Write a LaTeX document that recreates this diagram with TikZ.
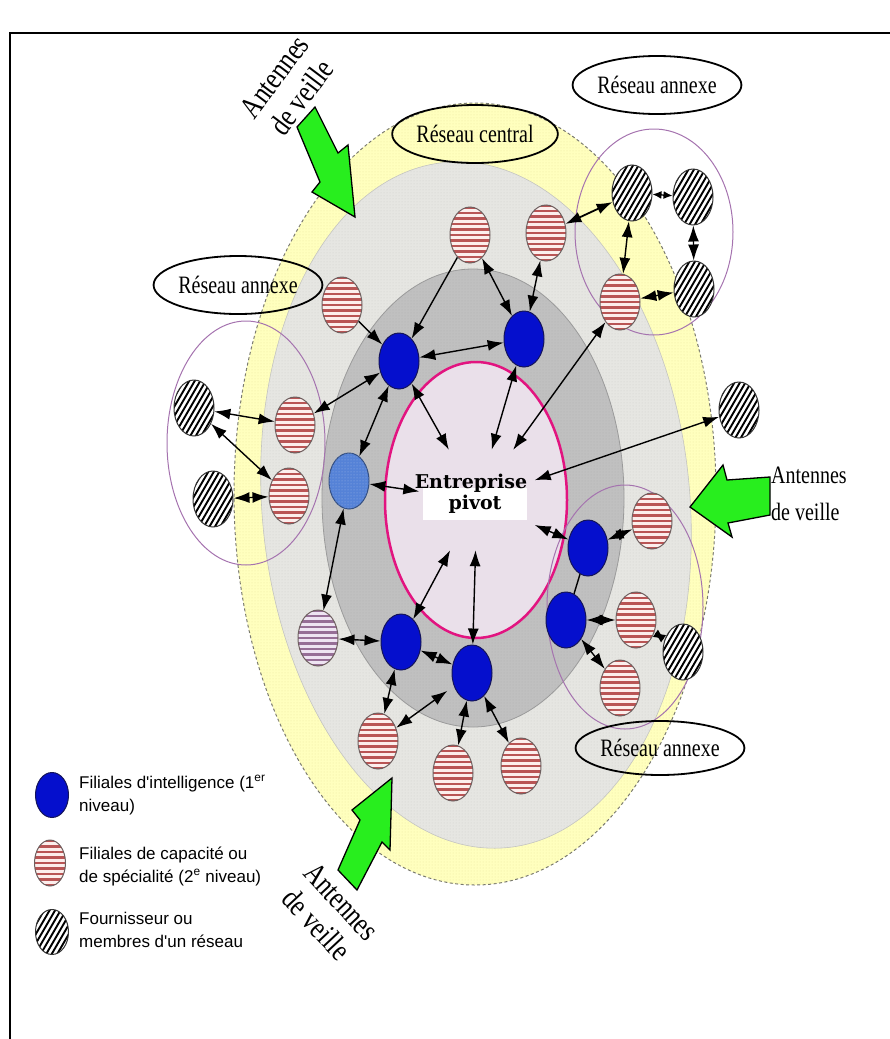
\documentclass[tikz,border=0pt]{standalone}
\definecolor{veilyellow}{RGB}{255,255,190}
\definecolor{yellowdot}{RGB}{236,232,160}
\definecolor{yellowline}{RGB}{120,120,110}
\definecolor{lightzone}{RGB}{230,230,226}
\definecolor{lightdot}{RGB}{208,208,204}
\definecolor{darkzone}{RGB}{192,192,192}
\definecolor{darkdot}{RGB}{175,175,175}
\definecolor{lavzone}{RGB}{234,224,234}
\definecolor{pivotpink}{RGB}{226,20,128}
\definecolor{annexpurple}{RGB}{165,115,175}
\definecolor{intelblue}{RGB}{5,15,205}
\definecolor{intelline}{RGB}{20,20,90}
\definecolor{lightintel}{RGB}{85,130,215}
\definecolor{capbg}{RGB}{252,238,236}
\definecolor{capred}{RGB}{185,85,85}
\definecolor{capline}{RGB}{110,95,95}
\definecolor{lavbg}{RGB}{238,228,242}
\definecolor{lavstripe}{RGB}{150,110,150}
\definecolor{antgreen}{RGB}{40,238,30}
\usepackage{fontspec}
\setmainfont{Liberation Serif}
\newfontfamily\labelfont[FakeStretch=0.8]{Liberation Serif}
\newfontfamily\pivotfont{DejaVu Serif}
\newfontfamily\legendfont{Liberation Sans}
\usepackage{tikz}
\usetikzlibrary{shapes.geometric, arrows.meta, patterns}

\begin{document}
\begin{tikzpicture}[x=1pt, y=-1pt, >={Latex[length=16pt,width=11pt]},
  intel/.style={ellipse, draw=intelline, fill=intelblue, line width=1pt, minimum width=40pt, minimum height=56pt, inner sep=0pt},
  capa/.style={ellipse, draw=capline, fill=capbg, line width=1pt, minimum width=40pt, minimum height=56pt, inner sep=0pt,
    path picture={\foreach \k in {-33,-27.5,...,33}
      \draw[#1, line width=2.5pt] ([yshift=\k pt]path picture bounding box.west) -- ([yshift=\k pt]path picture bounding box.east);}},
  capa/.default=capred,
  fourn/.style={ellipse, draw=black!80, fill=white, line width=1pt, minimum width=40pt, minimum height=56pt, inner sep=0pt,
    path picture={\foreach \k in {-84,-78.5,...,30}
      \draw[black, line width=1.9pt] ([xshift=\k pt, yshift=-43pt]path picture bounding box.center) -- ++(50pt,86pt);}},
  netlabel/.style={ellipse, draw, line width=1.8pt, minimum width=142pt, minimum height=58pt, inner sep=0pt, font=\labelfont\fontsize{25}{28}\selectfont},
  antenna/.style={fill=antgreen, draw=black, line width=1.3pt, line join=miter},
  antlabel/.style={align=center, inner sep=0pt, font=\labelfont\fontsize{31}{34}\selectfont},
  legend/.style={align=left, anchor=west, inner sep=0pt, font=\legendfont\fontsize{17}{23}\selectfont},
  dbl/.style={<->, line width=1.4pt},
  sgl/.style={->, line width=1.4pt}]
  \useasboundingbox (0,0) rectangle (890,1039);

  % Frame
  \draw[line width=2pt] (10,1039) -- (10,33) -- (890,33);

  % Zones
  \draw[yellowline, dash pattern=on 3pt off 2.5pt, line width=1pt, fill=veilyellow, postaction={pattern=dots, pattern color=yellowdot}] (475,494) ellipse (241pt and 391pt);
  \draw[rotate around={5:(476,505)}, lightzone!85!black, line width=0.6pt, fill=lightzone, postaction={pattern=dots, pattern color=lightdot}] (476,505) ellipse (214pt and 344pt);
  \draw[darkzone!80!black, line width=0.8pt, fill=darkzone, postaction={pattern=dots, pattern color=darkdot}] (473,498) ellipse (151pt and 229pt);
  \draw[pivotpink, line width=2.5pt, fill=lavzone] (476,500) ellipse (91pt and 138pt);

  % Annex networks
  \draw[annexpurple, line width=1pt] (654,232) ellipse (79pt and 103pt);
  \draw[annexpurple, line width=1pt] (246,443) ellipse (79pt and 122pt);
  \draw[annexpurple, line width=1pt] (625,607) ellipse (78pt and 122pt);

  % Labels
  \node[netlabel] (central) at (475,134) {Réseau central};
  \node[netlabel] (annexeNE) at (657,85) {Réseau annexe};
  \node[netlabel] (annexeW) at (238,285) {Réseau annexe};
  \node[netlabel, minimum height=54pt] (annexeSE) at (660,748) {Réseau annexe};

  % Antennes de veille
  \draw[antenna] (315,107) -- (338,153) -- (348,145) -- (355,217) -- (312,192) -- (320,182) -- (297,127) -- cycle;
  \draw[antenna] (690,507) -- (723,465) -- (727,480) -- (770,477) -- (770,515) -- (728,523) -- (732,537) -- cycle;
  \draw[antenna] (392,778) -- (390,850) -- (382,842) -- (357,890) -- (338,870) -- (360,820) -- (352,810) -- cycle;
  \node[antlabel, rotate=53] (antNW) at (288,87) {Antennes\\de veille};
  \node[antlabel, rotate=-47] (antS) at (329,913) {Antennes\\de veille};
  \node[align=left, anchor=west, inner sep=0pt, font=\labelfont\fontsize{25}{37}\selectfont] (antE) at (771,494) {Antennes\\de veille};

  % Entreprise pivot
  \node[fill=white, minimum width=104pt, minimum height=32pt, inner sep=0pt, font=\pivotfont\bfseries\fontsize{19}{22}\selectfont] (pivot) at (475,504) {pivot};
  \node[anchor=base, inner sep=0pt, font=\pivotfont\bfseries\fontsize{19}{22}\selectfont] (entreprise) at (471,488) {Entreprise};
  \node[minimum width=115pt, minimum height=100pt] (hub) at (477,500) {};

  % Filiales d'intelligence
  \node[intel] (i1) at (399,361) {};
  \node[intel] (i2) at (524,339) {};
  \node[intel, fill=lightintel, draw=lightintel!60!black, postaction={pattern=dots, pattern color=lightintel!60!white}] (i3) at (349,481) {};
  \node[intel] (i4) at (401,642) {};
  \node[intel] (i5) at (472,673) {};
  \node[intel] (i6) at (588,548) {};
  \node[intel] (i7) at (566,620) {};

  % Filiales de capacite
  \node[capa] (c1) at (470,235) {};
  \node[capa] (c2) at (546,233) {};
  \node[capa] (c3) at (342,305) {};
  \node[capa] (c4) at (295,425) {};
  \node[capa] (c5) at (289,496) {};
  \node[capa] (c6) at (620,302) {};
  \node[capa=lavstripe, fill=lavbg] (c7) at (318,638) {};
  \node[capa] (c8) at (378,741) {};
  \node[capa] (c9) at (453,773) {};
  \node[capa] (c10) at (521,766) {};
  \node[capa] (c11) at (652,521) {};
  \node[capa] (c12) at (636,620) {};
  \node[capa] (c13) at (620,688) {};

  % Fournisseurs
  \node[fourn] (f1) at (632,193) {};
  \node[fourn] (f2) at (693,197) {};
  \node[fourn] (f3) at (694,289) {};
  \node[fourn] (f4) at (194,408) {};
  \node[fourn] (f5) at (213,499) {};
  \node[fourn] (f6) at (739,410) {};
  \node[fourn] (f7) at (683,652) {};

  % Arrows
  \draw[sgl] (c1) -- (i1);
  \draw[dbl] (c1) -- (i2);
  \draw[dbl] (c2) -- (i2);
  \draw[sgl] (c3) -- (i1);
  \draw[dbl] (i1) -- (i2);
  \draw[dbl] (i1) -- (c4);
  \draw[dbl, line width=1.8pt] (c2) -- (f1);
  \draw[dbl, >={Latex[length=9pt,width=8pt]}] (f1) -- (f2);
  \draw[dbl] (f1) -- (c6);
  \draw[dbl] (f2) -- (f3);
  \draw[dbl] (c6) -- (f3);
  \draw[dbl] (f4) -- (c4);
  \draw[dbl] (f4) -- (c5);
  \draw[dbl] (f5) -- (c5);
  \draw[dbl] (i1) -- (i3);
  \draw[dbl] (i1) -- (hub);
  \draw[dbl] (i2) -- (hub);
  \draw[dbl] (c6) -- (hub);
  \draw[dbl] (f6) -- (hub);
  \draw[dbl] (i6) -- (hub);
  \draw[dbl] (i5) -- (hub);
  \draw[dbl] (i4) -- (hub);
  \draw[dbl] (i3) -- (hub);
  \draw[dbl] (i3) -- (c7);
  \draw[dbl] (c7) -- (i4);
  \draw[dbl] (i4) -- (i5);
  \draw[dbl] (i4) -- (c8);
  \draw[dbl, shorten <=8pt] (i5) -- (c8);
  \draw[dbl] (i5) -- (c9);
  \draw[dbl] (i5) -- (c10);
  \draw[line width=1.4pt] (i6) -- (i7);
  \draw[dbl] (i6) -- (c11);
  \draw[dbl] (i7) -- (c12);
  \draw[dbl, >={Latex[length=11pt,width=9pt]}] (c12) -- (f7);
  \draw[dbl] (i7) -- (c13);

  % Legend
  \node[intel, minimum width=33pt, minimum height=45pt] (keyI) at (52,795) {};
  \node[legend] (keyItext) at (79,795) {Filiales d'intelligence (1\textsuperscript{er}\\niveau)};
  \node[capa, minimum width=31pt, minimum height=46pt] (keyC) at (50,863) {};
  \node[legend] (keyCtext) at (79,866) {Filiales de capacité ou\\de spécialité (2\textsuperscript{e} niveau)};
  \node[fourn, minimum width=33pt, minimum height=45pt] (keyF) at (52,932) {};
  \node[legend] (keyFtext) at (79,930) {Fournisseur ou\\membres d'un réseau};
\end{tikzpicture}
\end{document}
